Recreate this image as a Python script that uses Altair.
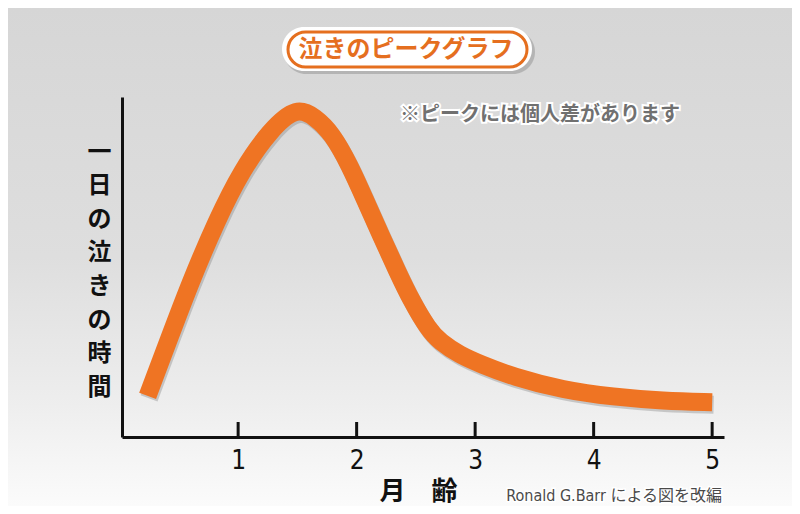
import altair as alt
import pandas as pd

# ---- data ----
months = [0.236, 0.426, 0.595, 0.820, 1.031, 1.270, 1.495, 1.650, 1.791, 1.945, 2.072, 2.207,
          2.342, 2.468, 2.603, 2.705, 2.873, 3.042, 3.321, 3.743, 4.165, 4.586, 5.000]
crying = [1.21, 2.97, 4.53, 6.38, 7.85, 9.03, 9.72, 9.41, 8.94, 7.97, 6.97, 5.91,
          4.88, 3.97, 3.18, 2.79, 2.41, 2.15, 1.77, 1.38, 1.18, 1.06, 1.02]
tick_months = [1, 2, 3, 4, 5]

chart_title = "泣きのピークグラフ"
note_text = "※ピークには個人差があります"
source_text = "Ronald G.Barr による図を改編"
y_title = list("一日の泣きの時間")
x_title = "月　齢"

ORANGE = "#EF7423"
TITLE_ORANGE = "#E56F1F"
JP = "Noto Sans CJK JP"

curve_df = pd.DataFrame({"month": months, "crying": crying})
ticks_df = pd.DataFrame({"month": tick_months})
one = alt.Data(values=[{}])

x_scale = alt.Scale(domain=[0.02, 5.1], nice=False, zero=False)
y_scale = alt.Scale(domain=[0, 10], nice=False)

# background gradient
bg = alt.Chart(one).mark_rect(
    color=alt.LinearGradient(
        gradient="linear",
        stops=[
            alt.GradientStop(color="#d6d6d6", offset=0),
            alt.GradientStop(color="#dedede", offset=0.5),
            alt.GradientStop(color="#eeeeee", offset=0.8),
            alt.GradientStop(color="#fbfbfb", offset=1),
        ],
        x1=0, x2=0, y1=0, y2=1,
    )
).encode(x=alt.value(-114), x2=alt.value(670), y=alt.value(-89), y2=alt.value(409))

# title pill
pill_shadow = alt.Chart(one).mark_rect(cornerRadius=22, color="#8a8a8a", opacity=0.45).encode(
    x=alt.value(162), x2=alt.value(413), y=alt.value(-67), y2=alt.value(-23))
pill_outer = alt.Chart(one).mark_rect(cornerRadius=22, color="#ffffff").encode(
    x=alt.value(160), x2=alt.value(410), y=alt.value(-70), y2=alt.value(-26))
pill_inner = alt.Chart(one).mark_rect(cornerRadius=18, fill="#ffffff", stroke=TITLE_ORANGE, strokeWidth=3).encode(
    x=alt.value(166), x2=alt.value(405), y=alt.value(-65), y2=alt.value(-30))
pill_text = alt.Chart(one).mark_text(
    font=JP, fontSize=24, fontWeight="bold", color=TITLE_ORANGE, align="center", baseline="middle"
).encode(x=alt.value(284), y=alt.value(-47), text=alt.value(chart_title))

# note with white outline
note_halo = alt.Chart(one).mark_text(
    font=JP, fontSize=20, fontWeight="bold", color="#ffffff", stroke="#ffffff", strokeWidth=4,
    align="left", baseline="middle"
).encode(x=alt.value(278), y=alt.value(18), text=alt.value(note_text))
note = alt.Chart(one).mark_text(
    font=JP, fontSize=20, fontWeight="bold", color="#707070", align="left", baseline="middle"
).encode(x=alt.value(278), y=alt.value(18), text=alt.value(note_text))

# source with white outline
src_font = "Liberation Sans Narrow, DejaVu Sans Condensed, Noto Sans CJK JP"
src_halo = alt.Chart(one).mark_text(
    font=src_font, fontSize=16, color="#ffffff", stroke="#ffffff", strokeWidth=3,
    align="right", baseline="middle"
).encode(x=alt.value(600), y=alt.value(399), text=alt.value(source_text))
src = alt.Chart(one).mark_text(
    font=src_font, fontSize=16, color="#4a4a4a", align="right", baseline="middle"
).encode(x=alt.value(600), y=alt.value(399), text=alt.value(source_text))

# curve shadow + curve
shadow = alt.Chart(curve_df).mark_line(
    interpolate="basis", strokeWidth=18, color="#7a7a7a", opacity=0.35,
    strokeCap="butt", xOffset=1.5, yOffset=2.5
).encode(x=alt.X("month:Q", scale=x_scale), y=alt.Y("crying:Q", scale=y_scale))

curve = alt.Chart(curve_df).mark_line(
    interpolate="basis", strokeWidth=18, color=ORANGE, strokeCap="butt"
).encode(
    x=alt.X("month:Q", scale=x_scale, axis=alt.Axis(
        values=tick_months, format="d", ticks=False, grid=False, zindex=1,
        domainColor="#111111", domainWidth=3,
        labelFont="Liberation Sans Narrow, DejaVu Sans Condensed, sans-serif",
        labelFontSize=26, labelColor="#111111", labelPadding=10, labelFlush=False,
        title=x_title, titleFont=JP, titleFontSize=26, titleFontWeight="bold",
        titleColor="#111111", titleX=296, titleY=54, titleAlign="center",
        titleBaseline="middle",
    )),
    y=alt.Y("crying:Q", scale=y_scale, axis=alt.Axis(
        labels=False, ticks=False, grid=False, zindex=1,
        domainColor="#111111", domainWidth=3,
        title=y_title, titleAngle=0, titleFont=JP, titleFontSize=24,
        titleFontWeight="bold", titleColor="#111111", titleLineHeight=33.6,
        titleX=-23, titleY=55, titleAlign="center", titleBaseline="middle",
    )),
)

ticks = alt.Chart(ticks_df).mark_rule(color="#111111", strokeWidth=3).encode(
    x=alt.X("month:Q", scale=x_scale), y=alt.value(340), y2=alt.value(325))

chart = alt.layer(
    bg, pill_shadow, pill_outer, pill_inner, pill_text,
    note_halo, note, src_halo, src, shadow, curve, ticks
).properties(
    width=602, height=340,
    padding={"left": 114, "top": 89, "right": 68, "bottom": 69},
    autosize=alt.AutoSizeParams(type="none"),
).configure_view(stroke=None).configure(background="#d6d6d6")

chart.save("out.html", embed_options={"renderer": "svg", "actions": False})
